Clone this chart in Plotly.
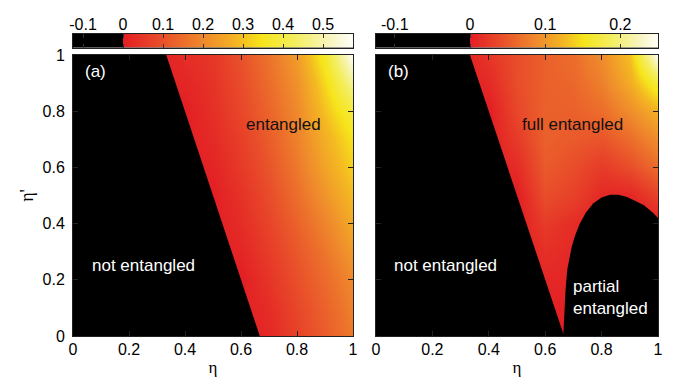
import plotly.graph_objects as go

# ---------------- data ----------------
eta = [0.0, 0.1, 0.2, 0.3, 0.4, 0.5, 0.6, 0.7, 0.8, 0.9, 1.0]
etap = [0.0, 0.1, 0.2, 0.3, 0.4, 0.5, 0.6, 0.7, 0.8, 0.9, 1.0]

# panel (a): rows = eta' (0 -> 1), columns = eta (0 -> 1); 0 = not entangled
z_a = [
    [0, 0, 0, 0, 0, 0, 0, 0.02, 0.07, 0.12, 0.17],
    [0, 0, 0, 0, 0, 0, 0, 0.03, 0.08, 0.13, 0.185],
    [0, 0, 0, 0, 0, 0, 0.0, 0.045, 0.095, 0.145, 0.2],
    [0, 0, 0, 0, 0, 0, 0.015, 0.06, 0.11, 0.165, 0.23],
    [0, 0, 0, 0, 0, 0, 0.028, 0.075, 0.13, 0.19, 0.26],
    [0, 0, 0, 0, 0, 0.0, 0.04, 0.09, 0.15, 0.22, 0.29],
    [0, 0, 0, 0, 0, 0.012, 0.055, 0.105, 0.17, 0.25, 0.32],
    [0, 0, 0, 0, 0, 0.025, 0.065, 0.12, 0.185, 0.27, 0.345],
    [0, 0, 0, 0, 0.0, 0.035, 0.08, 0.135, 0.2, 0.3, 0.39],
    [0, 0, 0, 0, 0.015, 0.042, 0.09, 0.148, 0.215, 0.33, 0.48],
    [0, 0, 0, 0, 0.03, 0.05, 0.1, 0.16, 0.235, 0.37, 0.575],
]

# panel (b)
z_b = [
    [0, 0, 0, 0, 0, 0, 0.0, 0, 0, 0, 0],
    [0, 0, 0, 0, 0, 0, 0.005, 0, 0, 0, 0],
    [0, 0, 0, 0, 0, 0, 0.008, 0.005, 0, 0, 0],
    [0, 0, 0, 0, 0, 0, 0.015, 0.008, 0, 0, 0],
    [0, 0, 0, 0, 0, 0, 0.025, 0.012, 0, 0, 0],
    [0, 0, 0, 0, 0, 0.0, 0.04, 0.03, 0.008, 0.006, 0.03],
    [0, 0, 0, 0, 0, 0.012, 0.05, 0.04, 0.025, 0.04, 0.065],
    [0, 0, 0, 0, 0, 0.025, 0.055, 0.05, 0.045, 0.065, 0.09],
    [0, 0, 0, 0, 0.0, 0.035, 0.055, 0.055, 0.065, 0.09, 0.12],
    [0, 0, 0, 0, 0.01, 0.04, 0.055, 0.06, 0.08, 0.115, 0.17],
    [0, 0, 0, 0, 0.02, 0.04, 0.055, 0.065, 0.09, 0.13, 0.25],
]

# region boundaries
not_ent_eta = [0.0, 0.667, 0.333, 0.0]
not_ent_etap = [0.0, 0.0, 1.0, 1.0]
partial_eta = [0.664, 0.667, 0.672, 0.678, 0.686, 0.694, 0.707, 0.723, 0.745, 0.771,
               0.80, 0.83, 0.86, 0.89, 0.92, 0.95, 0.98, 1.0, 1.0]
partial_etap = [0.0, 0.08, 0.16, 0.235, 0.28, 0.318, 0.36, 0.40, 0.44, 0.472,
                0.493, 0.503, 0.503, 0.495, 0.48, 0.465, 0.44, 0.42, 0.0]

cb_a_range = [-0.125, 0.575]
cb_b_range = [-0.125, 0.25]
cb_a_ticks = [-0.1, 0.0, 0.1, 0.2, 0.3, 0.4, 0.5]
cb_a_labels = ["-0.1", "0", "0.1", "0.2", "0.3", "0.4", "0.5"]
cb_b_ticks = [-0.1, 0.0, 0.1, 0.2]
cb_b_labels = ["-0.1", "0", "0.1", "0.2"]
axis_ticks = [0, 0.2, 0.4, 0.6, 0.8, 1.0]
axis_labels = ["0", "0.2", "0.4", "0.6", "0.8", "1"]

# ---------------- styling ----------------
palette = [(0.0, '#e31e24'), (0.15, '#e84a2a'), (0.35, '#ef8a2c'), (0.5, '#f4b822'),
           (0.6, '#f6e41a'), (0.75, '#f3ee60'), (0.9, '#f8f5c0'), (1.0, '#fffffa')]


def make_scale(rng):
    z0 = (0 - rng[0]) / (rng[1] - rng[0])
    cs = [[0.0, '#000000'], [z0 - 1e-4, '#000000']]
    for t, c in palette:
        cs.append([z0 + t * (1 - z0), c])
    return cs


W, H = 677, 378
px_x = lambda p: p / W
px_y = lambda p: 1 - p / H

dom_a = [px_x(73), px_x(353)]
dom_b = [px_x(376), px_x(658)]
dom_y = [px_y(336), px_y(55)]
cb_y = [px_y(47.5), px_y(33.5)]

FONT = "Liberation Sans, Arial, Helvetica, sans-serif"
SERIF = "Liberation Serif, Times New Roman, serif"

fig = go.Figure()

# main maps
for z, rng, xa, ya in [(z_a, cb_a_range, 'x', 'y'), (z_b, cb_b_range, 'x2', 'y2')]:
    fig.add_trace(go.Heatmap(
        x=eta, y=etap, z=z, zmin=rng[0], zmax=rng[1], colorscale=make_scale(rng),
        zsmooth='best', xaxis=xa, yaxis=ya, hoverinfo='skip', showscale=False))

# colour keys drawn as heatmaps spanning each colour range
for rng, xa, ya in [(cb_a_range, 'x3', 'y3'), (cb_b_range, 'x4', 'y4')]:
    fig.add_trace(go.Heatmap(
        x=rng, y=[0, 1], z=[rng, rng], zmin=rng[0], zmax=rng[1], colorscale=make_scale(rng),
        zsmooth='best', xaxis=xa, yaxis=ya, hoverinfo='skip', showscale=False))

# not-entangled regions (black)
for xa, ya in [('x', 'y'), ('x2', 'y2')]:
    fig.add_trace(go.Scatter(x=not_ent_eta, y=not_ent_etap, fill='toself', fillcolor='black',
                             mode='lines', line=dict(width=0, color='black'), xaxis=xa, yaxis=ya,
                             hoverinfo='skip', showlegend=False))
fig.add_trace(go.Scatter(x=partial_eta, y=partial_etap, fill='toself', fillcolor='black',
                         mode='lines', line=dict(width=0, color='black'), xaxis='x2', yaxis='y2',
                         hoverinfo='skip', showlegend=False))

common_ax = dict(range=[0, 1], tickvals=axis_ticks, ticktext=axis_labels, ticks='inside',
                 ticklen=5, tickcolor='#222', showline=True, linecolor='#222', linewidth=1,
                 mirror='ticks', showgrid=False, zeroline=False, automargin=False,
                 tickfont=dict(family=FONT, size=16, color='black'))

cb_ax = dict(side='top', ticks='inside', ticklen=4, tickcolor='#333', showline=True,
             linecolor='#222', linewidth=1, mirror='ticks', showgrid=False, zeroline=False,
             automargin=False, ticklabelstandoff=-4, tickfont=dict(family=FONT, size=16, color='black'))

fig.update_layout(
    width=W, height=H, margin=dict(l=0, r=0, t=0, b=0, autoexpand=False),
    paper_bgcolor='white', plot_bgcolor='black', showlegend=False,
    xaxis=dict(domain=dom_a, anchor='y', ticklabelstandoff=-1,
               title=dict(text='η', font=dict(family=SERIF, size=17, color='black'), standoff=3),
               **common_ax),
    yaxis=dict(domain=dom_y, anchor='x', ticklabelstandoff=4,
               title=dict(text="η'", font=dict(family=SERIF, size=18, color='black'), standoff=4),
               **common_ax),
    xaxis2=dict(domain=dom_b, anchor='y2', ticklabelstandoff=-1,
                title=dict(text='η', font=dict(family=SERIF, size=17, color='black'), standoff=3),
                **common_ax),
    yaxis2=dict(domain=dom_y, anchor='x2', showticklabels=False, **common_ax),
    xaxis3=dict(domain=dom_a, anchor='y3', range=cb_a_range, tickvals=cb_a_ticks,
                ticktext=cb_a_labels, **cb_ax),
    yaxis3=dict(domain=cb_y, anchor='x3', range=[0, 1], showticklabels=False, ticks='',
                showline=True, linecolor='#222', mirror=True, showgrid=False, zeroline=False,
                automargin=False),
    xaxis4=dict(domain=dom_b, anchor='y4', range=cb_b_range, tickvals=cb_b_ticks,
                ticktext=cb_b_labels, **cb_ax),
    yaxis4=dict(domain=cb_y, anchor='x4', range=[0, 1], showticklabels=False, ticks='',
                showline=True, linecolor='#222', mirror=True, showgrid=False, zeroline=False,
                automargin=False),
)

labels = [
    ('x', 'y', 0.079, 0.943, '(a)', 'white', 'center'),
    ('x', 'y', 0.752, 0.753, 'entangled', '#111', 'center'),
    ('x', 'y', 0.25, 0.25, 'not entangled', 'white', 'center'),
    ('x2', 'y2', 0.078, 0.943, '(b)', 'white', 'center'),
    ('x2', 'y2', 0.698, 0.754, 'full entangled', '#111', 'center'),
    ('x2', 'y2', 0.248, 0.25, 'not entangled', 'white', 'center'),
    ('x2', 'y2', 0.69, 0.137, 'partial<br>entangled', 'white', 'left'),
]
for xa, ya, x, y, txt, col, anc in labels:
    fig.add_annotation(xref=xa, yref=ya, x=x, y=y, text=txt, showarrow=False,
                       xanchor=anc, yanchor='middle', align='left',
                       font=dict(family=FONT, size=17, color=col))

fig.write_html("out.html", config={'displayModeBar': False},
               post_script="document.body.style.margin='0px';")
